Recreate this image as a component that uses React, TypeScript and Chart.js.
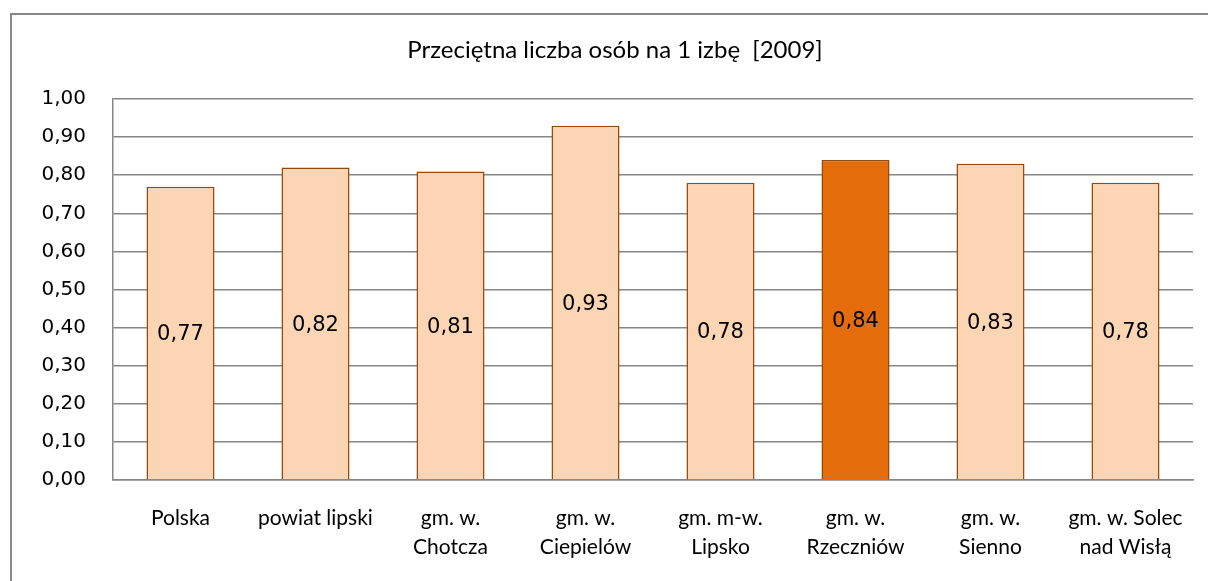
import React, { useEffect, useRef } from "react";
import { Chart, registerables } from "chart.js";

Chart.register(...registerables);

const title = "Przeciętna liczba osób na 1 izbę  [2009]";
const categories: (string | string[])[] = [
  "Polska",
  "powiat lipski",
  ["gm. w.", "Chotcza"],
  ["gm. w.", "Ciepielów"],
  ["gm. m-w.", "Lipsko"],
  ["gm. w.", "Rzeczniów"],
  ["gm. w.", "Sienno"],
  ["gm. w. Solec", "nad Wisłą"],
];
const values = [0.77, 0.82, 0.81, 0.93, 0.78, 0.84, 0.83, 0.78];
const highlightIndex = 5;
const yTicks = [0, 0.1, 0.2, 0.3, 0.4, 0.5, 0.6, 0.7, 0.8, 0.9, 1.0];

const fmt = (v: number) => v.toFixed(2).replace(".", ",");

const valueLabels = {
  id: "valueLabels",
  afterDatasetsDraw(chart: any) {
    const ctx = chart.ctx;
    const meta = chart.getDatasetMeta(0);
    ctx.save();
    ctx.font = "21px 'DejaVu Sans'";
    ctx.fillStyle = "#000";
    ctx.textAlign = "center";
    ctx.textBaseline = "middle";
    meta.data.forEach((bar: any, i: number) => {
      const mid = (bar.y + bar.base) / 2;
      ctx.fillText(fmt(values[i]), bar.x, mid + 2);
    });
    ctx.restore();
  },
};

const titlePlugin = {
  id: "fixedTitle",
  afterDraw(chart: any) {
    const ctx = chart.ctx;
    ctx.save();
    ctx.font = "24px Lato";
    ctx.fillStyle = "#000";
    ctx.textAlign = "center";
    ctx.textBaseline = "middle";
    ctx.fillText(title, 615, 50);
    ctx.restore();
  },
};

export default function App() {
  const ref = useRef<HTMLCanvasElement | null>(null);
  useEffect(() => {
    document.body.style.margin = "0";
    if (!ref.current) return;
    const chart = new Chart(ref.current, {
      type: "bar",
      data: {
        labels: categories,
        datasets: [
          {
            data: values,
            backgroundColor: values.map((_, i) => (i === highlightIndex ? "#E46C0A" : "#FCD5B5")),
            borderColor: "#984807",
            borderWidth: 1.5,
            barPercentage: 0.504,
            categoryPercentage: 1,
          },
        ],
      },
      options: {
        responsive: false,
        animation: false,
        layout: { padding: { top: 99, right: 15, bottom: 0, left: 0 } },
        plugins: {
          legend: { display: false },
          title: { display: false },
          tooltip: { enabled: false },
        },
        scales: {
          x: {
            grid: { display: false, drawTicks: false },
            border: { color: "#868686", width: 1.5 },
            ticks: {
              color: "#000",
              font: { family: "Lato", size: 21, lineHeight: 1.42 },
              padding: 23,
              maxRotation: 0,
              autoSkip: false,
            },
            afterFit: (s: any) => {
              s.height = 101;
            },
          },
          y: {
            min: 0,
            max: 1,
            afterBuildTicks: (s: any) => {
              s.ticks = yTicks.map((v) => ({ value: v }));
            },
            grid: { color: "#868686", lineWidth: 1.5, drawTicks: false },
            border: { color: "#868686", width: 1.5 },
            ticks: {
              color: "#000",
              font: { family: "DejaVu Sans", size: 20 },
              padding: 27,
              callback: (v: any) => fmt(Number(v)),
            },
            afterFit: (s: any) => {
              s.width = 113;
            },
          },
        },
      },
      plugins: [valueLabels, titlePlugin],
    });
    return () => chart.destroy();
  }, []);

  return (
    <div style={{ position: "fixed", left: 0, top: 0, width: 1208, height: 581, background: "#fff", overflow: "hidden" }}>
      <div
        style={{
          position: "absolute",
          left: 10,
          top: 13,
          width: 1300,
          height: 700,
          borderTop: "2px solid #878787",
          borderLeft: "2px solid #878787",
        }}
      />
      <canvas ref={ref} width={1208} height={581} style={{ position: "absolute", left: 0, top: 0 }} />
    </div>
  );
}
